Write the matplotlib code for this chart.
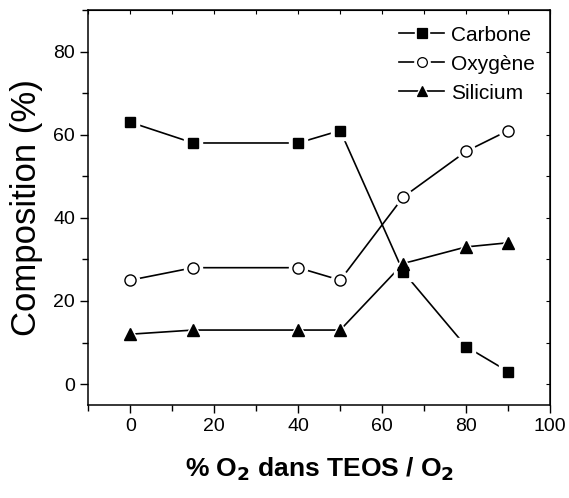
import matplotlib
matplotlib.use('Agg')
import matplotlib.pyplot as plt
from matplotlib.ticker import MultipleLocator
from matplotlib.lines import Line2D
from matplotlib.legend_handler import HandlerTuple

# composition vs O2 fraction
o2 = [0, 15, 40, 50, 65, 80, 90]
carbone = [63, 58, 58, 61, 27, 9, 3]
oxygene = [25, 28, 28, 25, 45, 56, 61]
silicium = [12, 13, 13, 13, 29, 33, 34]

plt.rcParams['font.family'] = ['Liberation Sans', 'DejaVu Sans']

fig = plt.figure(figsize=(5.69, 4.98), dpi=100)
ax = fig.add_axes([0.155, 0.187, 0.812, 0.793])

series = [
    (carbone, 's', 'black', 'Carbone', 7.5),
    (oxygene, 'o', 'white', 'Oxygène', 8.0),
    (silicium, '^', 'black', 'Silicium', 8.5),
]
handles = []
for vals, m, fc, lab, ms in series:
    ax.plot(o2, vals, '-', color='black', lw=1.2, zorder=2)
    # white halo so the line stops short of each marker
    ax.plot(o2, vals, m, ms=ms + 5, mfc='white', mec='white', zorder=3)
    ax.plot(o2, vals, m, ms=ms, mfc=fc, mec='black', mew=1.0, zorder=4)
    h_line = Line2D([], [], color='black', lw=1.2)
    h_halo = Line2D([], [], ls='none', marker=m, ms=ms + 3, mfc='white', mec='white')
    h_mark = Line2D([], [], ls='none', marker=m, ms=ms - 1, mfc=fc, mec='black', mew=0.9)
    handles.append(((h_line, h_halo, h_mark), lab))

ax.set_xlim(-10, 100)
ax.set_ylim(-5, 90)
ax.xaxis.set_major_locator(MultipleLocator(20))
ax.xaxis.set_minor_locator(MultipleLocator(10))
ax.yaxis.set_minor_locator(MultipleLocator(10))
ax.set_yticks([0, 20, 40, 60, 80])

ax.tick_params(which='both', direction='out', width=1.0, labelsize=14)
ax.tick_params(which='major', length=6)
ax.tick_params(which='minor', length=4)
for sp in ax.spines.values():
    sp.set_linewidth(1.1)

# inward ticks on the top and right spines
top = ax.secondary_xaxis('top')
top.xaxis.set_major_locator(MultipleLocator(10))
top.tick_params(direction='in', length=3, labeltop=False)
right = ax.secondary_yaxis('right')
right.yaxis.set_major_locator(MultipleLocator(10))
right.tick_params(direction='in', length=3, labelright=False)

ax.set_ylabel('Composition (%)', fontsize=25, labelpad=7)
ax.set_xlabel('% O$_\\mathbf{2}$ dans TEOS / O$_\\mathbf{2}$', fontsize=19,
              fontweight='bold', labelpad=15)

ax.legend([h for h, _ in handles], [l for _, l in handles],
          handler_map={tuple: HandlerTuple(ndivide=1, pad=0)},
          loc='upper right', frameon=False, fontsize=15, handlelength=2.2,
          handletextpad=0.3, labelspacing=0.48, borderaxespad=0.35)

fig.savefig('out.png', dpi=100)
